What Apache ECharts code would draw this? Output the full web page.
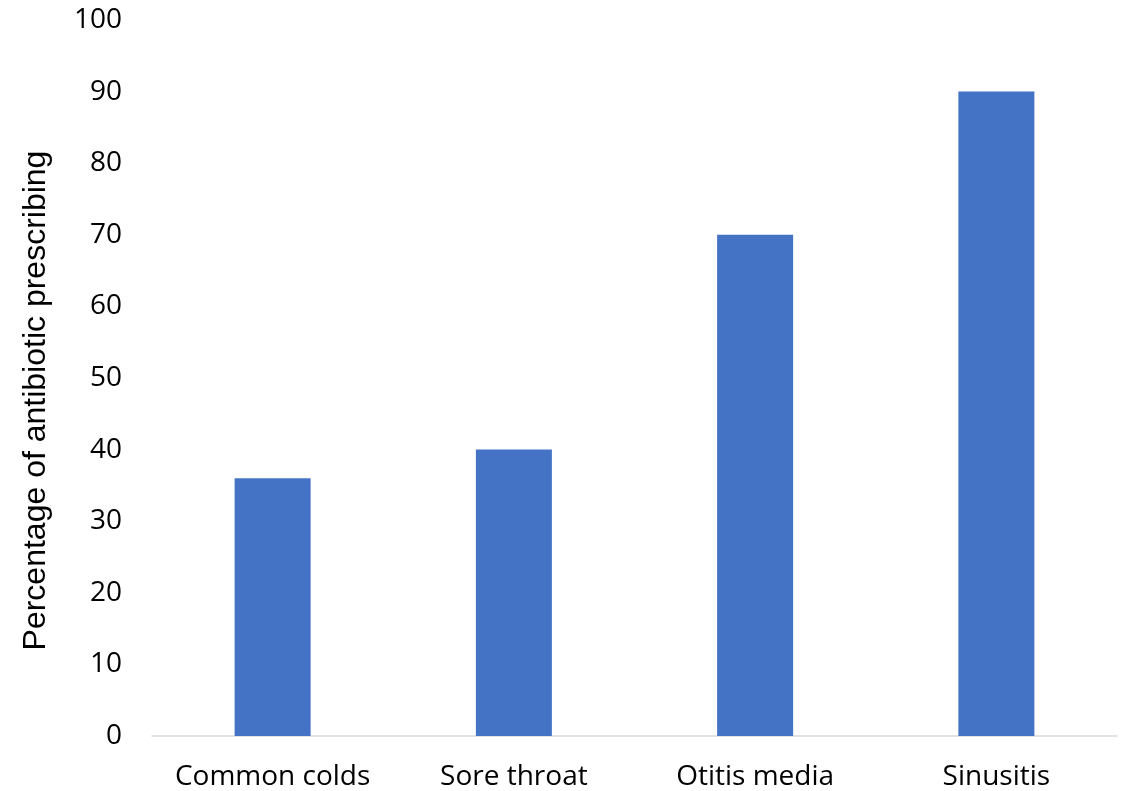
<!DOCTYPE html>
<html>
<head>
<meta charset="utf-8">
<script src="https://cdn.jsdelivr.net/npm/echarts@6/dist/echarts.min.js"></script>
<style>
  html, body { margin: 0; padding: 0; background: #ffffff; }
  #chart { width: 1127px; height: 791px; }
</style>
</head>
<body>
<div id="chart"></div>
<script>
// Conditions and their antibiotic prescribing rates (%)
const categories = ['Common colds', 'Sore throat', 'Otitis media', 'Sinusitis'];
const prescribingRates = [36, 40, 70, 90];
const yAxisTitle = 'Percentage of antibiotic prescribing';

const chart = echarts.init(document.getElementById('chart'), null, { renderer: 'canvas' });

chart.setOption({
  animation: false,
  backgroundColor: '#ffffff',
  grid: { left: 152, right: 10, top: 20, bottom: 54, containLabel: false },
  xAxis: {
    type: 'category',
    data: categories,
    axisLine: { show: true, lineStyle: { color: '#d9d9d9', width: 1.5 } },
    axisTick: { show: false },
    axisLabel: {
      interval: 0,
      hideOverlap: false,
      color: '#000000',
      fontFamily: 'Open Sans',
      fontSize: 28,
      margin: 27
    }
  },
  yAxis: {
    type: 'value',
    min: 0,
    max: 100,
    interval: 10,
    name: yAxisTitle,
    nameLocation: 'middle',
    nameGap: 100,
    nameRotate: 90,
    nameTextStyle: {
      color: '#000000',
      fontFamily: 'Liberation Sans',
      fontSize: 32,
      // nudge the title a little below the plot's vertical centre
      padding: [0, 45, 0, 0]
    },
    axisLine: { show: false },
    axisTick: { show: false },
    splitLine: { show: false },
    axisLabel: {
      color: '#000000',
      fontFamily: 'Open Sans',
      fontSize: 28,
      margin: 30
    }
  },
  series: [{
    type: 'bar',
    data: prescribingRates,
    barWidth: '31.5%',
    itemStyle: { color: '#4472c4' }
  }]
});
</script>
</body>
</html>
